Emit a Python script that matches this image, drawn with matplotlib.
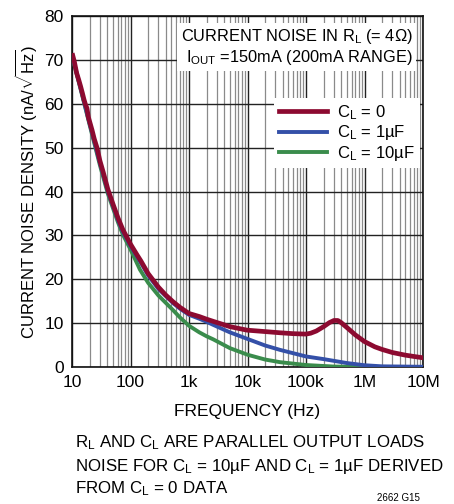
import matplotlib
matplotlib.use("Agg")
import matplotlib.pyplot as plt
import numpy as np
from matplotlib import font_manager

fam = "Liberation Sans Narrow"
names = {f.name for f in font_manager.fontManager.ttflist}
if fam not in names:
    fam = "Liberation Sans"
plt.rcParams['font.family'] = [fam, 'DejaVu Sans']
plt.rcParams['mathtext.fontset'] = 'custom'
plt.rcParams['mathtext.rm'] = fam
plt.rcParams['mathtext.it'] = fam
plt.rcParams['mathtext.bf'] = fam

# Data
f_red = [10.3, 11, 12, 13, 14, 15, 16, 17, 18, 19, 22, 24, 26.7, 30, 34, 41, 50, 61, 74, 100,
         130, 150, 200, 250, 300, 400, 530, 700, 1000, 1500, 2000, 2600, 5000, 9800,
         36000, 60000, 100000, 120000, 150000, 200000, 250000, 300000, 350000, 400000,
         500000, 700000, 1e6, 1.5e6, 2e6, 3e6, 5e6, 7e6, 1e7]
v_red = [71, 69.5, 67, 65.5, 64, 62.5, 61, 59.8, 59, 57, 54, 52, 50, 47, 44.5, 40.5, 37.2, 34, 31.3, 28,
         25.5, 24.2, 21.3, 19.6, 18.2, 16.4, 14.9, 13.6, 12.2, 11.5, 10.9, 10.4, 9.2, 8.4,
         7.8, 7.6, 7.5, 7.7, 8.2, 9.2, 10.1, 10.6, 10.6, 10.1,
         9.0, 7.3, 5.8, 4.6, 4.0, 3.3, 2.7, 2.4, 2.1]

f_blue = [10.3, 15, 20, 30, 41, 61, 74, 100, 130, 150, 200, 300, 530, 700, 1000, 1500, 2000, 2600, 5000,
          10000, 20000, 36000, 100000, 200000, 300000, 500000, 1e6, 2e6, 1e7]
v_blue = [70.5, 62, 55.5, 46.5, 40, 33.5, 30.8, 27.6, 25.1, 23.8, 20.9, 17.8, 14.6, 13.3, 11.9, 11.0, 10.3, 9.6, 7.9,
          6.4, 4.9, 3.9, 2.4, 1.8, 1.4, 0.9, 0.4, 0.15, 0.05]

f_green = [10.3, 15, 20, 30, 41, 61, 74, 100, 145, 200, 300, 530, 700, 1000, 1500, 2000, 2600,
           5000, 10000, 20000, 36000, 100000, 300000, 1e6, 1e7]
v_green = [70.3, 61.8, 55.2, 46, 39.5, 33, 30.2, 26.8, 22.2, 19.2, 16.3, 13.0, 11.3, 9.4, 7.9, 7.0, 6.3,
           4.3, 2.8, 1.7, 1.1, 0.45, 0.1, 0.02, 0.0]

xticks = [10, 100, 1000, 1e4, 1e5, 1e6, 1e7]
xticklabels = ['10', '100', '1k', '10k', '100k', '1M', '10M']
yticks = [0, 10, 20, 30, 40, 50, 60, 70, 80]

c_red = '#8c0a30'
c_blue = '#3450a8'
c_green = '#3a8c4c'

fig = plt.figure(figsize=(4.54, 5.04), dpi=100)
ax = fig.add_axes([72/454, 1-367/504, (423-72)/454, (367-16)/504])

ax.plot(f_green, v_green, color=c_green, lw=2.8, label=r'C$_{\rm L}$ = 10µF', zorder=3)
ax.plot(f_blue, v_blue, color=c_blue, lw=2.8, label=r'C$_{\rm L}$ = 1µF', zorder=4)
ax.plot(f_red, v_red, color=c_red, lw=3.4, label=r'C$_{\rm L}$ = 0', zorder=5)

ax.set_xscale('log')
ax.set_xlim(10, 1e7)
ax.set_ylim(0, 80)
ax.set_xticks(xticks)
ax.set_xticklabels(xticklabels)
ax.set_yticks(yticks)
ax.xaxis.set_minor_locator(matplotlib.ticker.LogLocator(base=10, subs=np.arange(2, 10), numticks=100))
ax.xaxis.set_minor_formatter(matplotlib.ticker.NullFormatter())
ax.tick_params(which='both', length=0, labelsize=12.5, pad=6)
ax.grid(True, which='major', color='#222222', lw=1.0, zorder=1)
ax.grid(True, which='minor', axis='x', color='#8a8a8a', lw=0.9, zorder=1)
for s in ax.spines.values():
    s.set_linewidth(1.2)
    s.set_color('#111111')

ax.set_xlabel('FREQUENCY (Hz)', fontsize=12.5, labelpad=10)
ax.set_ylabel(r'CURRENT NOISE DENSITY (nA/$\sqrt{\mathrm{Hz}}$)', fontsize=12, labelpad=4)

ax.text(0.97, 0.97, 'CURRENT NOISE IN R$_{\\rm L}$ (= 4Ω)\nI$_{\\rm OUT}$ =150mA (200mA RANGE)',
        transform=ax.transAxes, ha='right', va='top', fontsize=11.8, linespacing=1.2,
        bbox=dict(facecolor='white', edgecolor='none', pad=2.5), zorder=6)

h, l = ax.get_legend_handles_labels()
leg = ax.legend(h[::-1], l[::-1], loc='upper right', bbox_to_anchor=(1.015, 0.79),
                fontsize=12, frameon=True, fancybox=False, framealpha=1,
                edgecolor='none', handlelength=2.9, handletextpad=0.6,
                labelspacing=0.1, borderpad=0.3)
leg.set_zorder(7)

notes = ['R$_{\\rm L}$ AND C$_{\\rm L}$ ARE PARALLEL OUTPUT LOADS',
         'NOISE FOR C$_{\\rm L}$ = 10µF AND C$_{\\rm L}$ = 1µF DERIVED',
         'FROM C$_{\\rm L}$ = 0 DATA']
for i, t in enumerate(notes):
    fig.text(75/454, 1-(443+23*i)/504, t, ha='left', va='center', fontsize=12.2)
fig.text(420/454, 1-498/504, '2662 G15', ha='right', va='center', fontsize=7)

fig.savefig('out.png', dpi=100)
